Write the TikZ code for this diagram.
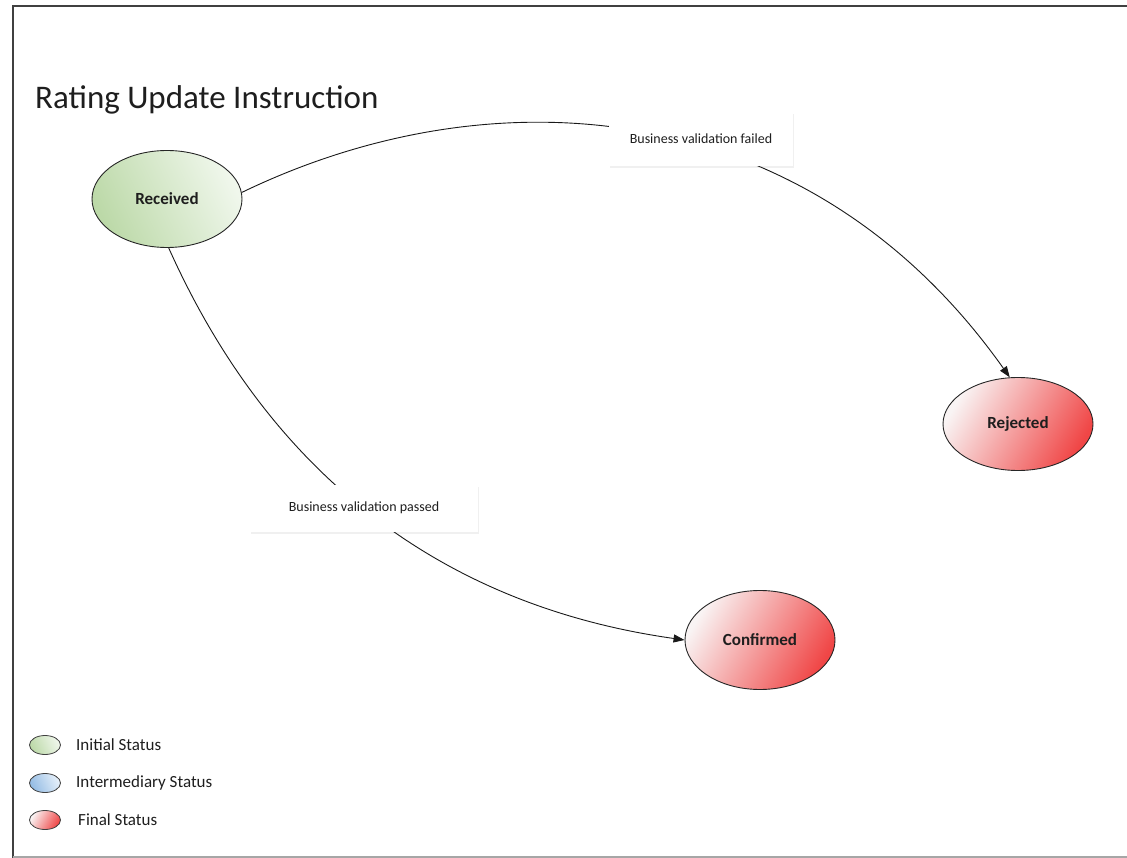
\documentclass[tikz,border=0pt]{standalone}
\usepackage{fontspec}
\setmainfont{Carlito}
\usetikzlibrary{arrows.meta,shapes.geometric,shadows}
\definecolor{grnD}{HTML}{BCD9A8}
\definecolor{grnL}{HTML}{F0F7EC}
\definecolor{redD}{HTML}{F04646}
\definecolor{redL}{HTML}{F9F4F4}
\definecolor{bluD}{HTML}{94BCE4}
\definecolor{bluL}{HTML}{E6F0FA}
\definecolor{txt}{HTML}{1E1E1E}
\begin{document}
\begin{tikzpicture}[x=1pt,y=-1pt,
  state/.style={ellipse, draw=black!85, line width=0.9pt, minimum width=150pt, minimum height=97pt,
    inner sep=0pt, font=\fontsize{17}{20}\selectfont\bfseries, text=txt},
  initst/.style={state, left color=grnD, right color=grnL, shading angle=115},
  finalst/.style={state, left color=redL, right color=redD, shading angle=60},
  conn/.style={line width=0.9pt, draw=black!90, -{Triangle[length=11pt,width=8pt]}},
  edgelbl/.style={fill=white, draw=none, inner sep=0pt, font=\fontsize{14}{16}\selectfont, text=txt,
    drop shadow={shadow xshift=1pt, shadow yshift=-2pt, opacity=0.12, fill=black!50}},
  legmark/.style={ellipse, draw=black!75, line width=0.8pt, minimum width=31pt, minimum height=19pt, inner sep=0pt},
  legtxt/.style={anchor=west, inner sep=0pt, font=\fontsize{17}{20}\selectfont, text=txt},
]
\useasboundingbox (0,0) rectangle (1127,858);
% frame
\draw[line width=1.5pt, black!75] (13,858) -- (13,6) -- (1130,6);
\draw[line width=1.2pt, black!35] (13,857) -- (1130,857);

\node[anchor=base west, inner sep=0pt, font=\fontsize{33}{38}\selectfont, text=txt] (title) at (35,109) {Rating Update Instruction};

\node[initst] (rec) at (167,199) {Received};
\node[finalst, minimum height=93pt] (rej) at (1018,424) {Rejected};
\node[finalst, minimum height=99pt] (conf) at (760,640) {Confirmed};

\draw[conn] (rec.5) .. controls (495,70) and (810,95) .. (rej.100);
\draw[conn] (rec.-88) .. controls (268,470) and (437,605) .. (conf.west);

\node[edgelbl, minimum width=184pt, minimum height=54pt] (lfail) at (701,139) {Business validation failed};
\node[edgelbl, minimum width=228pt, minimum height=47pt] (lpass) at (364,508) {Business validation passed};

% legend
\node[legmark, left color=grnD, right color=grnL, shading angle=115] (lg1) at (45,745) {};
\node[legmark, left color=bluD, right color=bluL, shading angle=115] (lg2) at (45,783) {};
\node[legmark, left color=redL, right color=redD, shading angle=60] (lg3) at (45,820) {};
\node[legtxt] (lt1) at (76,745) {Initial Status};
\node[legtxt] (lt2) at (76,783) {Intermediary Status};
\node[legtxt] (lt3) at (78,820) {Final Status};
\end{tikzpicture}
\end{document}
